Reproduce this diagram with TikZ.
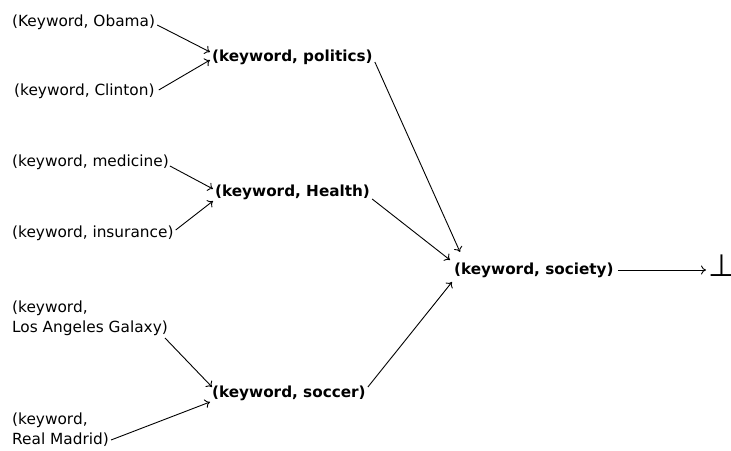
\documentclass[tikz,border=0pt]{standalone}
\usepackage{fontspec}
\setmainfont{DejaVu Sans}
\usetikzlibrary{arrows.meta}
\begin{document}
\begin{tikzpicture}[x=1bp,y=-1bp,
  leaf/.style={anchor=west,inner sep=0pt,font=\fontsize{15.4}{20}\selectfont,align=left},
  mid/.style={anchor=west,inner sep=0pt,font=\fontsize{15.3}{20}\selectfont\bfseries},
  conn/.style={-{To[length=5bp,width=9bp]},line width=0.9bp}]
\useasboundingbox (0,0) rectangle (731,451);
\node[leaf] (obama) at (12,22) {(Keyword, Obama)};
\node[leaf] (clinton) at (14,91) {(keyword, Clinton)};
\node[mid] (politics) at (212,57) {(keyword, politics)};
\node[leaf] (medicine) at (12,162) {(keyword, medicine)};
\node[leaf] (insurance) at (12,233) {(keyword, insurance)};
\node[mid] (health) at (215,192) {(keyword, Health)};
\node[leaf] (galaxy) at (12,318) {(keyword,\\Los Angeles Galaxy)};
\node[leaf] (madrid) at (12,430) {(keyword,\\Real Madrid)};
\node[mid] (soccer) at (212,393) {(keyword, soccer)};
\node[mid] (society) at (454,270) {(keyword, society)};
\node[inner sep=0pt,anchor=south west,font=\fontsize{31}{31}\selectfont] (bot) at (708,277) {⊥};
\draw[conn] ([shift={(2,3)}]obama.east) -- ([shift={(-2,-5)}]politics.west);
\draw[conn] ([shift={(4,-1)}]clinton.east) -- ([shift={(-2,3)}]politics.west);
\draw[conn] ([shift={(2,5)}]politics.east) -- ([shift={(6,-18)}]society.west);
\draw[conn] ([shift={(1,4)}]medicine.east) -- ([shift={(-2,-3)}]health.west);
\draw[conn] ([shift={(2,-3)}]insurance.east) -- ([shift={(-2,9)}]health.west);
\draw[conn] ([shift={(2,7)}]health.east) -- ([shift={(-4,-10)}]society.west);
\draw[conn] ([shift={(-3,20)}]galaxy.east) -- ([shift={(0,-6)}]soccer.west);
\draw[conn] ([shift={(2,10)}]madrid.east) -- ([shift={(-2,9)}]soccer.west);
\draw[conn] ([shift={(2,-6)}]soccer.east) -- ([shift={(-2,12)}]society.west);
\draw[conn] ([shift={(4,0)}]society.east) -- ([xshift=-2]bot.west |- society.east);
\end{tikzpicture}
\end{document}
